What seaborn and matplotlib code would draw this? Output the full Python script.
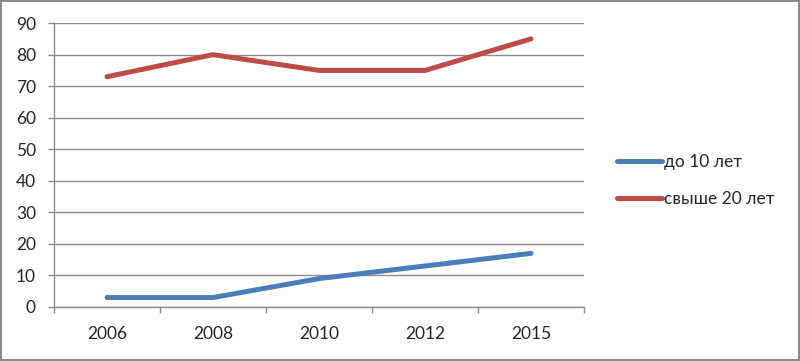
import numpy as np
import pandas as pd
import seaborn as sns
import matplotlib.pyplot as plt

# Data
years = ['2006', '2008', '2010', '2012', '2015']
under_10 = [3, 3, 9, 13, 17]
over_20 = [73, 80, 75, 75, 85]
labels = ['до 10 лет', 'свыше 20 лет']

df = pd.DataFrame({
    'year': years * 2,
    'value': under_10 + over_20,
    'group': [labels[0]] * len(years) + [labels[1]] * len(years),
})

sns.set_style('white')
plt.rcParams['font.family'] = ['Lato', 'DejaVu Sans']

fig = plt.figure(figsize=(8, 3.61), dpi=100, linewidth=1.5, edgecolor='#8a8a8a')
ax = fig.add_axes([0.0675, 0.1496, 0.6625, 0.7864])

sns.lineplot(
    data=df, x='year', y='value', hue='group',
    palette={labels[0]: '#4a7ebb', labels[1]: '#be4b48'},
    linewidth=3.6, sort=False, ax=ax, legend=False,
)
for line in ax.lines:
    line.set_solid_capstyle('round')

ax.set_xlim(-0.5, len(years) - 0.5)
ax.set_ylim(0, 90)
ax.set_yticks(np.arange(0, 91, 10))
ax.set_xticks(range(len(years)))
ax.set_xticklabels(years)
ax.set_xticks(np.arange(-0.5, len(years), 1), minor=True)
ax.set_xlabel('')
ax.set_ylabel('')

ax.grid(axis='y', color='#8c8c8c', linewidth=1)
ax.set_axisbelow(True)
for side in ['top', 'right']:
    ax.spines[side].set_visible(False)
for side in ['left', 'bottom']:
    ax.spines[side].set_color('#8c8c8c')
    ax.spines[side].set_linewidth(1)

ax.tick_params(axis='y', which='major', length=4, width=1, color='#8c8c8c',
               pad=9, labelsize=12.5, left=True)
ax.tick_params(axis='x', which='major', length=0, pad=14, labelsize=12.5)
ax.tick_params(axis='x', which='minor', length=4, width=1, color='#8c8c8c',
               bottom=True)

handles = [plt.Line2D([], [], color=c, linewidth=3.6, solid_capstyle='round')
           for c in ['#4a7ebb', '#be4b48']]
fig.legend(handles, labels, loc='center left', bbox_to_anchor=(0.752, 0.50),
           frameon=False, fontsize=12.5, handlelength=2.6, handletextpad=0.1,
           labelspacing=1.2)

fig.savefig('out.png', dpi=100, edgecolor=fig.get_edgecolor())
